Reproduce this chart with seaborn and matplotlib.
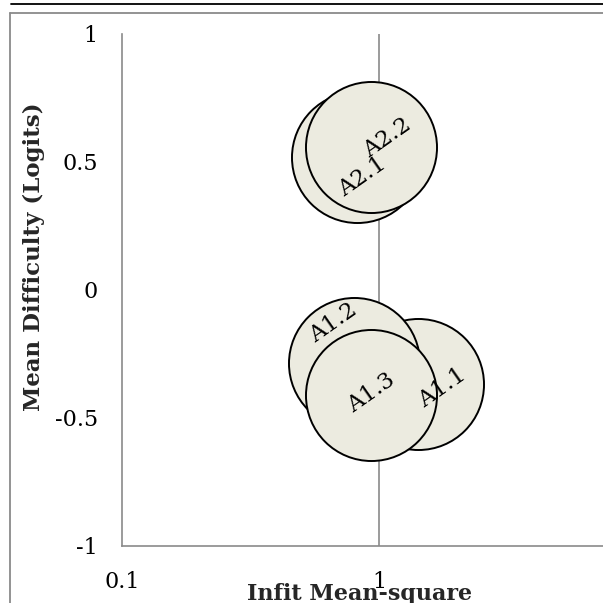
import numpy as np
import pandas as pd
import matplotlib
matplotlib.use("Agg")
import matplotlib.pyplot as plt
import seaborn as sns
from matplotlib.lines import Line2D

# ---- data ----
labels = ["A1.1", "A1.2", "A1.3", "A2.1", "A2.2"]
infit = [1.41, 0.80, 0.93, 0.82, 0.93]
difficulty = [-0.37, -0.285, -0.41, 0.52, 0.56]
x_ticks = [0.1, 1]
x_tick_labels = ["0.1", "1"]
y_ticks = [-1, -0.5, 0, 0.5, 1]
y_tick_labels = ["-1", "-0.5", "0", "0.5", "1"]

df = pd.DataFrame({"label": labels, "infit": infit, "difficulty": difficulty})

sns.set_theme(style="white")
plt.rcParams["font.family"] = ["DejaVu Serif"]
plt.rcParams["axes.unicode_minus"] = False

W = H = 603
fig = plt.figure(figsize=(6.03, 6.03), dpi=100)
fig.patch.set_facecolor("white")

def fx(px):
    return px / W

def fy(py):
    return 1 - py / H

ax = fig.add_axes([fx(122), fy(545.5), fx(636.6) - fx(122), fy(34) - fy(545.5)])
ax.set_facecolor("white")
ax.set_xscale("log")

axis_grey = "#8a8a8a"
ax.grid(False)
for xv in x_ticks[1:]:
    ax.axvline(xv, color=axis_grey, lw=1.2, zorder=0.5)

sns.scatterplot(data=df, x="infit", y="difficulty", ax=ax, s=8900,
                color="#ECEBE0", edgecolor="black", linewidth=1.4,
                legend=False, zorder=3, clip_on=False)

# label offsets (pixels, relative to bubble centre)
offsets = {"A1.1": (25, -4), "A1.2": (-21, 40), "A1.3": (0, 2),
           "A2.1": (5, -20), "A2.2": (16, 9)}
for lab, xv, yv in zip(labels, infit, difficulty):
    dx, dy = offsets[lab]
    ax.annotate(lab, (xv, yv), xytext=(dx * 0.72, dy * 0.72),
                textcoords="offset points", ha="center", va="center",
                rotation=35, fontsize=16.5, color="black", zorder=5,
                rotation_mode="anchor")

ax.set_xlim(0.1, 10)
ax.set_ylim(-1, 1)
ax.set_xticks(x_ticks)
ax.set_xticklabels(x_tick_labels)
ax.set_yticks(y_ticks)
ax.set_yticklabels(y_tick_labels)
ax.xaxis.set_minor_locator(matplotlib.ticker.NullLocator())
ax.yaxis.set_minor_locator(matplotlib.ticker.NullLocator())

for s in ["top", "right"]:
    ax.spines[s].set_visible(False)
for s in ["left", "bottom"]:
    ax.spines[s].set_color(axis_grey)
    ax.spines[s].set_linewidth(1.2)

ax.tick_params(axis="both", which="major", direction="out", length=6.5,
               width=1.2, color=axis_grey, labelsize=16, labelcolor="black")
ax.tick_params(axis="x", pad=12)
ax.tick_params(axis="y", pad=11)

ax.set_xlabel("Infit Mean-square", fontsize=16, fontweight="bold", va="top")
ax.xaxis.set_label_coords((360 - 122) / 514.6, (545.5 - 583) / 511.5)
ax.set_ylabel("Mean Difficulty (Logits)", fontsize=16.5, fontweight="bold", va="center")
ax.yaxis.set_label_coords((34 - 122) / 514.6, (545.5 - 257) / 511.5)

# page frame elements
fig.add_artist(Line2D([fx(10), fx(10)], [fy(13), fy(620)], color=axis_grey, lw=1.3,
                      transform=fig.transFigure))
fig.add_artist(Line2D([fx(10), fx(620)], [fy(13), fy(13)], color=axis_grey, lw=1.3,
                      transform=fig.transFigure))
fig.add_artist(Line2D([fx(11), fx(620)], [fy(4.3), fy(4.3)], color="black", lw=1.3,
                      transform=fig.transFigure))

fig.savefig("out.png", dpi=100)
